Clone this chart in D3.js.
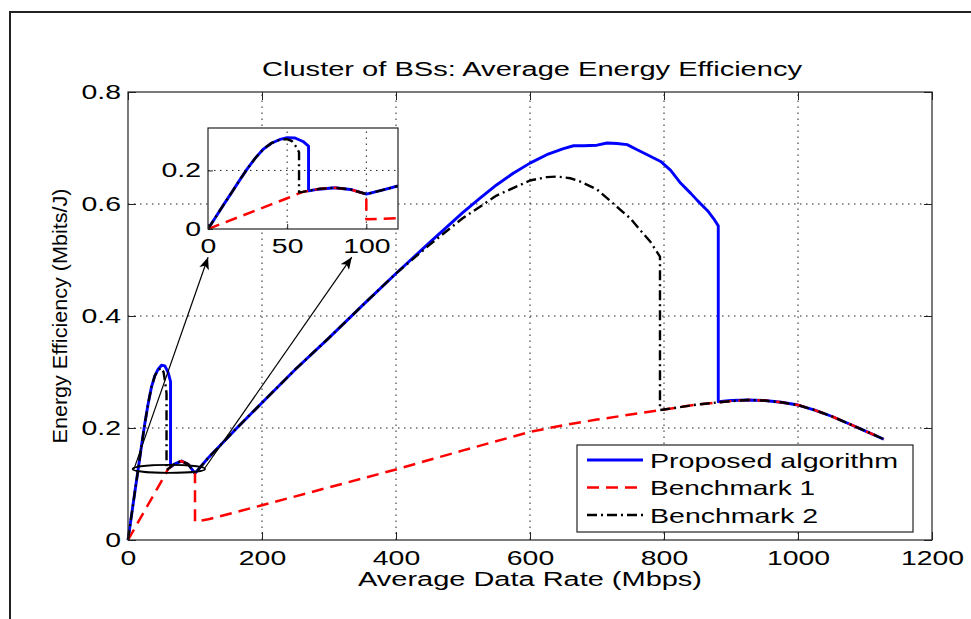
<!DOCTYPE html>
<html>
<head>
<meta charset="utf-8">
<script src="https://cdn.jsdelivr.net/npm/d3@7"></script>
<style>
  body { margin: 0; background: #fff; }
  svg { display: block; }
  text { font-family: "Liberation Sans", Arial, Helvetica, sans-serif; fill: #000; }
</style>
</head>
<body>
<div id="chart"></div>
<script>
// data: [rate (Mbps), efficiency (Mbits/J)]
const proposed = [
  [0,0],[5,0.042],[10,0.084],[15,0.125],[20,0.167],[25,0.207],[30,0.243],[35,0.273],
  [40,0.293],[45,0.305],[50,0.312],[55,0.311],[60,0.299],[63.5,0.283],[63.5,0.130],
  [70,0.136],[80,0.141],[90,0.135],[100,0.119],[110,0.133],[120,0.147],[160,0.197],
  [200,0.245],[250,0.305],[300,0.361],[350,0.419],[400,0.476],[450,0.531],[500,0.585],
  [525,0.610],[550,0.634],[575,0.655],[600,0.673],[625,0.688],[650,0.699],[665,0.704],
  [680,0.704],[700,0.705],[715,0.709],[730,0.708],[745,0.706],[760,0.697],[775,0.688],
  [795,0.676],[810,0.660],[825,0.637],[840,0.619],[850,0.606],[865,0.588],[874,0.574],
  [881,0.561],[881,0.247],[900,0.249],[925,0.250],[950,0.249],[975,0.246],[1000,0.241],
  [1025,0.232],[1050,0.221],[1075,0.208],[1100,0.195],[1128,0.180]
];
const bench1 = [
  [0,0],[10,0.021],[20,0.042],[30,0.063],[40,0.084],[50,0.105],[60,0.127],[70,0.137],
  [80,0.141],[90,0.135],[100,0.119],[100,0.033],[120,0.037],[200,0.062],[300,0.094],
  [400,0.126],[500,0.160],[600,0.193],[650,0.205],[700,0.215],[750,0.224],[800,0.233],
  [850,0.242],[900,0.248],[925,0.250],[950,0.249],[975,0.246],[1000,0.241],[1025,0.232],
  [1050,0.221],[1075,0.208],[1100,0.195],[1128,0.180]
];
const bench2 = [
  [0,0],[5,0.042],[10,0.084],[15,0.125],[20,0.167],[25,0.207],[30,0.243],[35,0.273],
  [40,0.293],[45,0.304],[50,0.307],[53,0.300],[55.5,0.282],[57.5,0.262],[57.5,0.125],
  [60,0.127],[70,0.137],[80,0.141],[90,0.135],[100,0.119],[110,0.133],[120,0.147],
  [160,0.197],[200,0.245],[250,0.305],[300,0.361],[350,0.419],[400,0.476],[450,0.527],
  [500,0.575],[550,0.615],[600,0.642],[625,0.648],[640,0.649],[660,0.646],[675,0.640],
  [700,0.626],[724,0.601],[750,0.574],[764,0.554],[780,0.532],[794,0.506],[794,0.232],
  [800,0.233],[850,0.242],[900,0.248],[925,0.250],[950,0.249],[975,0.246],[1000,0.241],
  [1025,0.232],[1050,0.221],[1075,0.208],[1100,0.195],[1128,0.180]
];

const seriesNames = ["Proposed algorithm", "Benchmark 1", "Benchmark 2"];
const xTicks = [0, 200, 400, 600, 800, 1000, 1200];
const yTicks = [0, 0.2, 0.4, 0.6, 0.8];
const insetXTicks = [0, 50, 100];
const insetYTicks = [0, 0.2];

// zoom marker (data units of the main axes)
const zoomEllipse = { cx: 61, cy: 0.127, rx: 54, ry: 0.007 };
const zoomArrows = [
  { from: [9, 0.127], to: [119.5, 0.505] },
  { from: [115, 0.129], to: [334, 0.505] }
];

const W = 971, H = 619;
const styles = [
  { color: "#0000ff", width: 2.9, dash: null },
  { color: "#ff0000", width: 2.5, dash: "12,7" },
  { color: "#000000", width: 2.4, dash: "10,4,2,4" }
];
const allSeries = [proposed, bench1, bench2];

const svg = d3.select("#chart").append("svg")
    .attr("width", W)
    .attr("height", H);

function stretch(sel, k) {
  sel.each(function() {
    const len = this.getComputedTextLength();
    d3.select(this).attr("textLength", len * k).attr("lengthAdjust", "spacingAndGlyphs");
  });
}
function fitTo(sel, target) {
  sel.attr("textLength", target).attr("lengthAdjust", "spacingAndGlyphs");
}

// outer figure frame
svg.append("path")
    .attr("d", `M10,${H}V12H${W}`)
    .attr("fill", "none")
    .attr("stroke", "#222")
    .attr("stroke-width", 2);

const x = d3.scaleLinear().domain([0, 1200]).range([128, 932]);
const y = d3.scaleLinear().domain([0, 0.8]).range([540, 92]);

const grid = svg.append("g")
    .attr("stroke", "#222")
    .attr("stroke-width", 1)
    .attr("stroke-dasharray", "1.5,4.5");
grid.selectAll(".gx").data(xTicks.slice(1, -1)).enter().append("line")
    .attr("x1", d => x(d)).attr("x2", d => x(d))
    .attr("y1", y(0)).attr("y2", y(0.8));
grid.selectAll(".gy").data(yTicks.slice(1, -1)).enter().append("line")
    .attr("x1", x(0)).attr("x2", x(1200))
    .attr("y1", d => y(d)).attr("y2", d => y(d));

// axes with inward ticks (all four sides)
function styleAxis(g) {
  g.select(".domain").remove();
  g.selectAll(".tick line").attr("stroke", "#222");
  g.selectAll(".tick text").attr("font-size", 20).attr("fill", "#000");
}
const xAxis = svg.append("g")
    .attr("transform", `translate(0,${y(0)})`)
    .call(d3.axisBottom(x).tickValues(xTicks).tickSize(-8).tickPadding(11).tickFormat(d3.format("d")))
    .call(styleAxis);
const yAxis = svg.append("g")
    .attr("transform", `translate(${x(0)},0)`)
    .call(d3.axisLeft(y).tickValues(yTicks).tickSize(-8).tickPadding(7).tickFormat(d => d === 0 ? "0" : d3.format(".1f")(d)))
    .call(styleAxis);
svg.append("g")
    .attr("transform", `translate(0,${y(0.8)})`)
    .call(d3.axisTop(x).tickValues(xTicks).tickSize(-8).tickFormat(""))
    .call(styleAxis);
svg.append("g")
    .attr("transform", `translate(${x(1200)},0)`)
    .call(d3.axisRight(y).tickValues(yTicks).tickSize(-8).tickFormat(""))
    .call(styleAxis);
stretch(xAxis.selectAll(".tick text"), 1.42);
stretch(yAxis.selectAll(".tick text"), 1.42);

const line = d3.line().x(d => x(d[0])).y(d => y(d[1]));
const curves = svg.append("g").attr("fill", "none");
allSeries.forEach((s, i) => {
  curves.append("path")
      .datum(s)
      .attr("d", line)
      .attr("stroke", styles[i].color)
      .attr("stroke-width", styles[i].width)
      .attr("stroke-dasharray", styles[i].dash)
      .attr("stroke-linejoin", "round");
});

// plot box
svg.append("rect")
    .attr("x", x(0)).attr("y", y(0.8))
    .attr("width", x(1200) - x(0)).attr("height", y(0) - y(0.8))
    .attr("fill", "none")
    .attr("stroke", "#222")
    .attr("stroke-width", 1.2);

// zoom ellipse + arrows
svg.append("defs").append("marker")
    .attr("id", "head")
    .attr("viewBox", "0 0 12 10")
    .attr("refX", 12).attr("refY", 5)
    .attr("markerWidth", 13).attr("markerHeight", 10)
    .attr("markerUnits", "userSpaceOnUse")
    .attr("orient", "auto")
  .append("path")
    .attr("d", "M0,0L12,5L0,10L3,5Z")
    .attr("fill", "#000");

svg.append("ellipse")
    .attr("cx", x(zoomEllipse.cx)).attr("cy", y(zoomEllipse.cy))
    .attr("rx", x(zoomEllipse.rx) - x(0)).attr("ry", y(0) - y(zoomEllipse.ry))
    .attr("fill", "none")
    .attr("stroke", "#000")
    .attr("stroke-width", 1.8);
svg.selectAll(".arrow").data(zoomArrows).enter().append("line")
    .attr("x1", d => x(d.from[0])).attr("y1", d => y(d.from[1]))
    .attr("x2", d => x(d.to[0])).attr("y2", d => y(d.to[1]))
    .attr("stroke", "#000")
    .attr("stroke-width", 1.2)
    .attr("marker-end", "url(#head)");

// inset axes
const ix = d3.scaleLinear().domain([0, 120]).range([208, 398]);
const iy = d3.scaleLinear().domain([0, 0.345]).range([229, 128]);
const inset = svg.append("g");
inset.append("rect")
    .attr("x", ix(0)).attr("y", iy(0.345))
    .attr("width", ix(120) - ix(0)).attr("height", iy(0) - iy(0.345))
    .attr("fill", "#fff");
inset.append("clipPath").attr("id", "insetClip").append("rect")
    .attr("x", ix(0)).attr("y", iy(0.345))
    .attr("width", ix(120) - ix(0)).attr("height", iy(0) - iy(0.345));
const igrid = inset.append("g")
    .attr("stroke", "#222")
    .attr("stroke-width", 1)
    .attr("stroke-dasharray", "1.5,4.5");
igrid.selectAll("line.gx").data(insetXTicks.slice(1)).enter().append("line")
    .attr("x1", d => ix(d)).attr("x2", d => ix(d))
    .attr("y1", iy(0)).attr("y2", iy(0.345));
igrid.selectAll("line.gy").data(insetYTicks.slice(1)).enter().append("line")
    .attr("x1", ix(0)).attr("x2", ix(120))
    .attr("y1", d => iy(d)).attr("y2", d => iy(d));

const iline = d3.line().x(d => ix(d[0])).y(d => iy(d[1]));
const icurves = inset.append("g").attr("fill", "none").attr("clip-path", "url(#insetClip)");
allSeries.forEach((s, i) => {
  icurves.append("path")
      .datum(s.filter(d => d[0] <= 130))
      .attr("d", iline)
      .attr("stroke", styles[i].color)
      .attr("stroke-width", styles[i].width)
      .attr("stroke-dasharray", styles[i].dash)
      .attr("stroke-linejoin", "round");
});
const ixAxis = inset.append("g")
    .attr("transform", `translate(0,${iy(0)})`)
    .call(d3.axisBottom(ix).tickValues(insetXTicks).tickSize(-5).tickPadding(10))
    .call(styleAxis);
const iyAxis = inset.append("g")
    .attr("transform", `translate(${ix(0)},0)`)
    .call(d3.axisLeft(iy).tickValues(insetYTicks).tickSize(-5).tickPadding(7).tickFormat(d => d === 0 ? "0" : d3.format(".1f")(d)))
    .call(styleAxis);
stretch(ixAxis.selectAll(".tick text"), 1.42);
stretch(iyAxis.selectAll(".tick text"), 1.42);
inset.append("rect")
    .attr("x", ix(0)).attr("y", iy(0.345))
    .attr("width", ix(120) - ix(0)).attr("height", iy(0) - iy(0.345))
    .attr("fill", "none")
    .attr("stroke", "#222")
    .attr("stroke-width", 1.2);

// titles
svg.append("text")
    .attr("x", 532).attr("y", 76)
    .attr("text-anchor", "middle")
    .attr("font-size", 20)
    .text("Cluster of BSs: Average Energy Efficiency")
    .call(fitTo, 540);
svg.append("text")
    .attr("x", 530).attr("y", 586)
    .attr("text-anchor", "middle")
    .attr("font-size", 20)
    .text("Average Data Rate (Mbps)")
    .call(fitTo, 344);
svg.append("text")
    .attr("transform", "translate(67,316) rotate(-90)")
    .attr("text-anchor", "middle")
    .attr("font-size", 20)
    .text("Energy Efficiency (Mbits/J)")
    .call(fitTo, 255);

// legend
const legendWidths = [248, 165, 168];
const legend = svg.append("g");
legend.append("rect")
    .attr("x", 577).attr("y", 445)
    .attr("width", 336).attr("height", 87)
    .attr("fill", "#fff")
    .attr("stroke", "#222")
    .attr("stroke-width", 1.2);
seriesNames.forEach((name, i) => {
  const cy = 460 + i * 27.5;
  legend.append("line")
      .attr("x1", 587).attr("x2", 643)
      .attr("y1", cy).attr("y2", cy)
      .attr("stroke", styles[i].color)
      .attr("stroke-width", styles[i].width)
      .attr("stroke-dasharray", styles[i].dash);
  legend.append("text")
      .attr("x", 650).attr("y", cy + 7.5)
      .attr("font-size", 21)
      .text(name)
      .call(fitTo, legendWidths[i]);
});
</script>
</body>
</html>
